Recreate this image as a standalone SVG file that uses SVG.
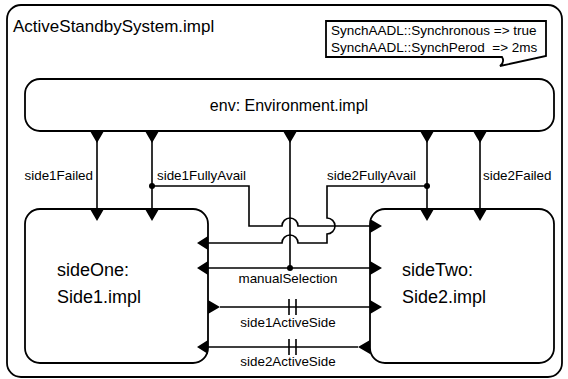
<svg xmlns="http://www.w3.org/2000/svg" width="568" height="379" viewBox="0 0 568 379">
<style>
.box{fill:#fff;stroke:#000;stroke-width:1.8}
.ln{fill:none;stroke:#000;stroke-width:1.6}
.port{fill:#000;stroke:none}
.t{font-family:"Liberation Sans",Arial,sans-serif;fill:#000}
.lbl{font-family:"Liberation Sans",Arial,sans-serif;font-size:13.4px;fill:#000}
</style>
<rect width="568" height="379" fill="#fff"/>
<g id="frame">
<rect class="box" x="7" y="5" width="555" height="372" rx="14"/>
<text class="t" x="13" y="32" font-size="17">ActiveStandbySystem.impl</text>
</g>
<g id="properties">
<path class="box" d="M326,21 H546 V56 L500,66 Q505,62 502,57 H326 Z" stroke-width="1.4"/>
<text class="t" x="331" y="35" font-size="13.5">SynchAADL::Synchronous =&gt; true</text>
<text class="t" x="331" y="52" font-size="13.5" xml:space="preserve">SynchAADL::SynchPerod  =&gt; 2ms</text>
</g>
<g id="env">
<rect class="box" x="25" y="79" width="529" height="52" rx="15"/>
<text class="t" x="289" y="111" font-size="16" text-anchor="middle">env: Environment.impl</text>
<path class="port" d="M90,131 H104 L97,143 Z M145,131 H159 L152,143 Z M283,131 H297 L290,143 Z M420,131 H434 L427,143 Z M473,131 H487 L480,143 Z"/>
</g>
<g id="sideOne">
<rect class="box" x="25" y="209" width="183" height="154" rx="15"/>
<text class="t" x="57" y="276" font-size="18">sideOne:</text>
<text class="t" x="57" y="303" font-size="18">Side1.impl</text>
<path class="port" d="M90,209 H104 L97,221 Z M145,209 H159 L152,221 Z M208,236 V250 L197,243 Z M208,261 V275 L197,268 Z M208,300 V314 L220,307 Z M208,340 V354 L197,347 Z"/>
</g>
<g id="sideTwo">
<rect class="box" x="370" y="209" width="184" height="154" rx="15"/>
<text class="t" x="402" y="276" font-size="18">sideTwo:</text>
<text class="t" x="402" y="303" font-size="18">Side2.impl</text>
<path class="port" d="M420,209 H434 L427,221 Z M473,209 H487 L480,221 Z M370,219 V233 L382,226 Z M370,261 V275 L382,268 Z M370,300 V314 L382,307 Z M370,340 V354 L358,347 Z"/>
</g>
<g id="connectors">
<path class="ln" d="M97,131 V209"/>
<path class="ln" d="M480,131 V209"/>
<path class="ln" d="M152,131 V209"/>
<path class="ln" d="M152,186 H249 V226 H282 A8,8 0 0 1 298,226 H370"/>
<path class="ln" d="M427,131 V209"/>
<path class="ln" d="M427,186 H327 V218 A8,8 0 0 1 327,234 V243 H298 A8,8 0 0 0 282,243 H208"/>
<path class="ln" d="M290,131 V268"/>
<path class="ln" d="M208,268 H370"/>
<path class="ln" d="M220,307 H370 M289,299 V315 M296,299 V315"/>
<path class="ln" d="M208,347 H358 M289,339 V355 M296,339 V355"/>
<circle cx="152" cy="186" r="3"/>
<circle cx="427" cy="186" r="3"/>
<circle cx="290" cy="268" r="3"/>
<text class="lbl" x="93" y="180" text-anchor="end">side1Failed</text>
<text class="lbl" x="157" y="180">side1FullyAvail</text>
<text class="lbl" x="327" y="180">side2FullyAvail</text>
<text class="lbl" x="483" y="180">side2Failed</text>
<text class="lbl" x="288" y="283" text-anchor="middle">manualSelection</text>
<text class="lbl" x="288" y="327" text-anchor="middle">side1ActiveSide</text>
<text class="lbl" x="288" y="366" text-anchor="middle">side2ActiveSide</text>
</g>
</svg>
